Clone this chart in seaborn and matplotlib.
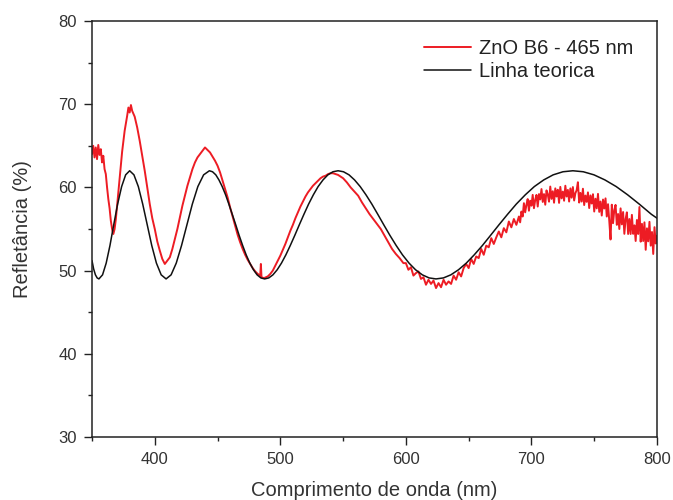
import matplotlib
matplotlib.use("Agg")
import matplotlib.pyplot as plt
import seaborn as sns
import pandas as pd
from matplotlib.ticker import MultipleLocator

# --- data ---
red_x = [350, 351, 352, 353, 354, 355, 356, 357, 358, 359, 360, 361, 362, 363, 364, 365, 366, 367, 368, 369,
         370, 372, 374, 376, 378, 379, 380, 381, 382, 384, 386, 388, 390, 392, 394, 396, 398, 400, 402, 404,
         406, 408, 410, 412, 414, 416, 418, 420, 422, 424, 426, 428, 430, 432, 434, 436, 438, 440, 442, 444,
         446, 448, 450, 452, 454, 456, 458, 460, 462, 464, 466, 468, 470, 472, 474, 476, 478, 480, 482, 484,
         484.5, 485, 487, 490, 492, 494, 496, 498, 500, 502, 504, 506, 508, 510, 512, 514, 516, 518, 520, 522,
         524, 526, 528, 530, 532, 534, 536, 538, 540, 542, 544, 546, 548, 550, 553, 556, 559, 562, 565, 568,
         571, 574, 577, 580, 583, 586, 589, 592, 595, 598,
         600, 602, 604, 606, 608, 610, 612, 614, 616, 618, 620, 622, 624, 626, 628, 630, 632, 634, 636, 638,
         640, 642, 644, 646, 648, 650, 652, 654, 656, 658, 660, 662, 664, 666, 668, 670, 672, 674, 676, 678,
         680, 682, 684, 686, 688,
         690, 691, 692, 693, 694, 695, 696, 697, 698, 699, 700, 701, 702, 703, 704, 705, 706, 707, 708, 709,
         710, 711, 712, 713, 714, 715, 716, 717, 718, 719, 720, 721, 722, 723, 724, 725, 726, 727, 728, 729,
         730, 731, 732, 733, 734, 735, 736, 737, 738, 739, 740, 741, 742, 743, 744, 745, 746, 747, 748, 749,
         750, 751, 752, 753, 754, 755, 756, 757, 758, 759, 760, 761, 762, 763, 764, 765, 766, 767, 768, 769,
         770, 771, 772, 773, 774, 775, 776, 777, 778, 779, 780, 781, 782, 783, 784, 785, 786, 787, 788, 789,
         790, 791, 792, 793, 794, 795, 796, 797, 798, 799, 800]
red_y = [64.0, 65.0, 63.6, 64.8, 63.4, 65.1, 63.9, 64.6, 63.0, 63.8, 62.2, 61.6, 60.0, 58.6, 57.5, 56.0, 55.0, 54.4, 55.0, 56.2,
         57.8, 61.0, 64.3, 66.8, 68.6, 69.6, 69.0, 69.9, 69.2, 68.5, 67.2, 65.6, 63.8, 62.0, 60.0, 58.0, 56.3, 55.0, 53.5, 52.4,
         51.4, 50.8, 51.2, 51.6, 52.6, 53.8, 55.0, 56.4, 57.8, 59.0, 60.2, 61.2, 62.2, 63.0, 63.6, 64.0, 64.4, 64.8, 64.5, 64.2,
         63.7, 63.2, 62.6, 61.8, 60.8, 59.8, 58.8, 57.6, 56.5, 55.4, 54.3, 53.4, 52.6, 51.9, 51.3, 50.8, 50.3, 49.9, 49.6, 49.4,
         50.8, 49.2, 49.1, 49.3, 49.6, 50.0, 50.6, 51.2, 51.8, 52.5, 53.2, 54.0, 54.8, 55.5, 56.3, 57.0, 57.7, 58.3, 58.9, 59.4,
         59.8, 60.2, 60.5, 60.8, 61.1, 61.3, 61.4, 61.6, 61.7, 61.7, 61.6, 61.5, 61.3, 61.1, 60.6, 60.0, 59.5, 59.0, 58.2, 57.5,
         56.8, 56.2, 55.6, 55.0, 54.2, 53.4, 52.6, 52.0, 51.5, 50.9,
         50.9, 50.1, 50.4, 49.4, 49.7, 49.9, 49.0, 49.2, 48.3, 48.9, 48.4, 48.8, 47.9, 48.5, 48.0, 48.9, 48.3, 48.7, 48.4, 49.4,
         48.9, 49.8, 49.3, 50.3, 50.8, 50.3, 51.4, 50.8, 51.7, 51.5, 52.6, 51.9, 53.0, 52.8, 53.9, 53.2, 54.0, 54.7, 54.0, 55.1,
         54.6, 55.9, 55.2, 56.2, 55.5,
         56.5, 55.8, 57.1, 56.5, 58.1, 57.0, 57.9, 58.6, 57.2, 58.4, 57.8, 59.1, 57.5, 58.5, 59.1, 57.7, 59.2, 58.55, 59.8, 58.25,
         59.2, 57.92, 59.64, 59.16, 58.28, 60.1, 58.62, 59.54, 58.16, 59.88, 58.9, 59.72, 58.14, 60.06, 58.68, 59.5, 58.4, 60.2, 58.9, 59.7,
         58.3, 59.88, 58.76, 60.04, 58.42, 59.3, 59.66, 60.62, 58.18, 59.34, 58.3, 59.84, 57.88, 59.02, 58.26, 59.4, 57.52, 59.04, 58.06, 59.18,
         57.1, 58.64, 57.48, 59.22, 57.06, 58.3, 56.62, 58.54, 57.46, 58.68, 56.5, 57.98, 55.96, 53.74, 57.92, 55.7, 57.3, 57.9, 55.5, 56.8,
         55.0, 57.48, 55.56, 57.04, 54.42, 56.2, 57.0, 54.4, 56.2, 54.4, 56.7, 54.42, 55.44, 53.56, 56.08, 54.4, 57.64, 53.48, 55.62, 53.56,
         55.8, 52.5, 55.08, 53.52, 55.86, 53.0, 54.64, 52.0, 55.22, 53.26, 54.2]

black_x = [350, 351.3, 352.7, 354.1, 355.5,
           358.4, 361.3, 364.3, 367.3, 370.4, 373.6, 376.8, 380,
           383.4, 386.9, 390.4, 394.0, 397.6, 401.3, 405.1, 409,
           413.0, 417.1, 421.3, 425.6, 429.9, 434.3, 438.9, 443.5,
           446.0, 448.6, 451.1, 453.7, 456.4, 459.0, 461.7, 464.5, 467.2, 470.0, 472.8, 475.7, 478.6, 481.5, 484.5, 487.5,
           490.8, 494.1, 497.5, 500.9, 504.4, 507.9, 511.5, 515.1, 518.8, 522.5, 526.3, 530.1, 534.0, 537.9, 541.9, 546,
           550.3, 554.7, 559.1, 563.6, 568.2, 572.9, 577.6, 582.4, 587.3, 592.3, 597.3, 602.5, 607.7, 613.1, 618.5, 624,
           629.9, 635.8, 641.9, 648.1, 654.4, 660.9, 667.4, 674.1, 681.0, 687.9, 695.1, 702.3, 709.8, 717.3, 725.1, 733,
           741.3, 749.8, 758.5, 767.5, 776.6, 785.9, 795.5, 800]
black_y = [51.2, 50.2, 49.5, 49.12, 49.0,
           49.49, 50.90, 53.01, 55.5, 57.99, 60.10, 61.51, 62.0,
           61.51, 60.10, 57.99, 55.5, 53.01, 50.90, 49.49, 49.0,
           49.49, 50.90, 53.01, 55.5, 57.99, 60.10, 61.51, 62.0,
           61.88, 61.51, 60.90, 60.10, 59.11, 57.99, 56.77, 55.5, 54.23, 53.01, 51.89, 50.90, 50.10, 49.49, 49.12, 49.0,
           49.12, 49.49, 50.10, 50.90, 51.89, 53.01, 54.23, 55.5, 56.77, 57.99, 59.11, 60.10, 60.90, 61.51, 61.88, 62.0,
           61.88, 61.51, 60.90, 60.10, 59.11, 57.99, 56.77, 55.5, 54.23, 53.01, 51.89, 50.90, 50.10, 49.49, 49.12, 49.0,
           49.12, 49.49, 50.10, 50.90, 51.89, 53.01, 54.23, 55.5, 56.77, 57.99, 59.11, 60.10, 60.90, 61.51, 61.88, 62.0,
           61.88, 61.51, 60.90, 60.10, 59.11, 57.99, 56.77, 56.3]

label_red = "ZnO B6 - 465 nm"
label_black = "Linha teorica"
xlabel = "Comprimento de onda (nm)"
ylabel = "Refletância (%)"

df_red = pd.DataFrame({"x": red_x, "y": red_y})
df_black = pd.DataFrame({"x": black_x, "y": black_y})

sns.set_style("ticks")
plt.rcParams["font.family"] = ["Liberation Sans", "DejaVu Sans"]

fig = plt.figure(figsize=(6.73, 5.00), dpi=100)
ax = fig.add_axes([92/673, 1-437/500, (657-92)/673, (437-21)/500])

sns.lineplot(data=df_red, x="x", y="y", ax=ax, color="#ed1c24", lw=1.4,
             estimator=None, sort=False, label=label_red)
sns.lineplot(data=df_black, x="x", y="y", ax=ax, color="#111111", lw=1.1,
             estimator=None, sort=False, label=label_black)

ax.set_xlim(350, 800)
ax.set_ylim(30, 80)
ax.xaxis.set_major_locator(MultipleLocator(100))
ax.xaxis.set_minor_locator(MultipleLocator(50))
ax.yaxis.set_major_locator(MultipleLocator(10))
ax.yaxis.set_minor_locator(MultipleLocator(5))
ax.set_xticks([400, 500, 600, 700, 800])
ax.tick_params(which="major", direction="out", length=6, width=1.0, pad=5, labelsize=12,
               colors="#222222", labelcolor="#333333")
ax.tick_params(which="minor", direction="out", length=3, width=1.0, colors="#222222")
for s in ax.spines.values():
    s.set_visible(True)
    s.set_linewidth(1.1)
    s.set_color("#222222")

ax.set_xlabel(xlabel, fontsize=14.5, color="#333333", labelpad=10)
ax.set_ylabel(ylabel, fontsize=14.5, color="#333333", labelpad=19)

leg = ax.legend(loc="upper left", bbox_to_anchor=(0.556, 1.0), frameon=False,
                fontsize=14.5, handlelength=2.3, handletextpad=0.4, labelspacing=0.2)
for t in leg.get_texts():
    t.set_color("#222222")

fig.savefig("out.png", dpi=100)
